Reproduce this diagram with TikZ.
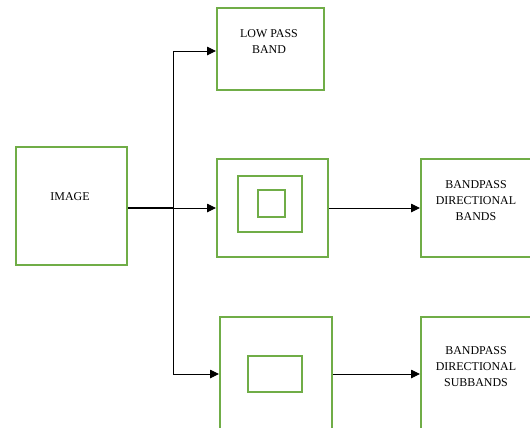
\documentclass[tikz,border=0pt]{standalone}
\usepackage{fontspec}
\setmainfont{Liberation Serif}
\usetikzlibrary{arrows.meta}
\definecolor{boxgreen}{RGB}{112,173,71}
\tikzset{
  gbox/.style={draw=boxgreen, line width=2bp, minimum width=#1, inner sep=0pt},
  lbl/.style={align=center, font=\fontsize{12}{16}\selectfont, inner sep=0pt},
  conn/.style={line width=0.9bp, -{Triangle[length=9bp,width=8.5bp]}},
}
\begin{document}
\begin{tikzpicture}[x=1bp,y=-1bp]
\useasboundingbox (0,0) rectangle (530,427);
\clip (0,0) rectangle (530,427);
\node[gbox=107bp, minimum height=82bp] (low) at (270.5,49) {};
\node[gbox=111bp, minimum height=118bp] (image) at (71.5,206) {};
\node[gbox=111bp, minimum height=98bp] (mid) at (272.5,207.5) {};
\node[gbox=64bp, minimum height=56bp] (inA) at (270,204) {};
\node[gbox=27bp, minimum height=27bp] (inB) at (271.5,203.5) {};
\node[gbox=110bp, minimum height=98bp] (r1) at (476,207.5) {};
\node[gbox=112bp, minimum height=114bp] (bot) at (276,374) {};
\node[gbox=54bp, minimum height=36bp] (inC) at (275,374) {};
\node[gbox=110bp, minimum height=114bp] (r2) at (476,374) {};
\node[lbl] (timage) at (70,197) {IMAGE};
\node[lbl] (tlow) at (269,42) {LOW PASS\\BAND};
\node[lbl] (tr1) at (476,201) {BANDPASS\\DIRECTIONAL\\BANDS};
\node[lbl] (tr2) at (476,367) {BANDPASS\\DIRECTIONAL\\SUBBANDS};
\coordinate (j) at (173,208);
\coordinate (jl) at (173,51);
\draw[line width=2bp] (image.east |- j) -- (j);
\draw[conn] (j) -- (mid.west |- j);
\draw[conn] (j) -- (jl) -- (low.west |- jl);
\draw[conn] (j) |- (bot.west);
\draw[conn] (mid.east |- j) -- (r1.west |- j);
\draw[conn] (bot.east) -- (r2.west);
\end{tikzpicture}
\end{document}
